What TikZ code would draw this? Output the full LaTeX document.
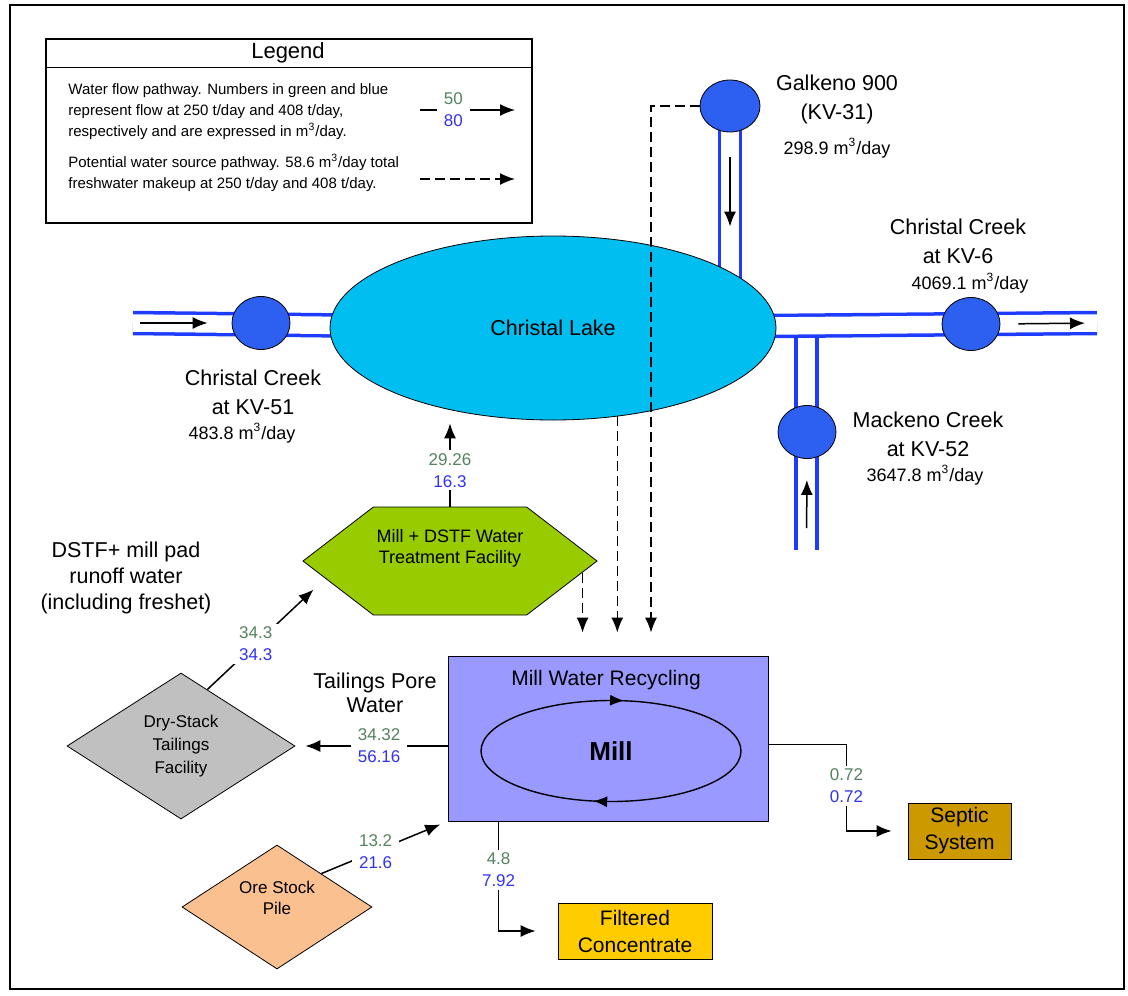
\documentclass[tikz,border=0pt]{standalone}
\usepackage{fontspec}
\setmainfont{Liberation Sans}
\usetikzlibrary{shapes.geometric,shapes.symbols,arrows.meta,backgrounds,decorations.markings}

\definecolor{lakecyan}{RGB}{0,190,240}
\definecolor{stationblue}{RGB}{45,95,240}
\definecolor{pipeblue}{RGB}{30,60,255}
\definecolor{millpurple}{RGB}{153,153,255}
\definecolor{hexgreen}{RGB}{153,204,0}
\definecolor{dstfgrey}{RGB}{192,192,192}
\definecolor{orepeach}{RGB}{250,192,144}
\definecolor{septicgold}{RGB}{204,153,0}
\definecolor{concgold}{RGB}{255,204,0}
\definecolor{numgreen}{RGB}{85,130,95}
\definecolor{numblue}{RGB}{50,50,240}

\newcommand{\flows}[2]{\textcolor{numgreen}{#1}\\\textcolor{numblue}{#2}}

\begin{document}
\begin{tikzpicture}[x=0.5pt, y=-0.5pt,
  lbl/.style={align=center, font=\fontsize{10.75}{14.5}\selectfont},
  rate/.style={font=\fontsize{9}{11}\selectfont},
  legtext/.style={align=left, anchor=west, inner sep=0pt, font=\fontsize{7.5}{10.5}\selectfont},
  nums/.style={fill=white, inner xsep=3.5pt, inner ysep=1.5pt, align=center, font=\fontsize{8.5}{11}\selectfont},
  station/.style={ellipse, draw, fill=stationblue, minimum width=29pt, minimum height=26.5pt, inner sep=0pt},
  pipe/.style={draw=pipeblue, line width=1.75pt, double=white, double distance=8.75pt},
  flow/.style={line width=0.75pt, -{Latex[length=7.5pt,width=6pt]}},
  dflow/.style={flow, dash pattern=on 5pt off 2.5pt},
  boxnode/.style={draw, inner sep=0pt, align=center, font=\fontsize{10.5}{13.5}\selectfont},
  recycling/.style={line width=0.7pt, postaction={decorate},
    decoration={markings,
      mark=at position 0.28 with {\arrow{Latex[length=7pt,width=5.5pt]}},
      mark=at position 0.772 with {\arrow{Latex[length=7pt,width=5.5pt]}}}}]
  \useasboundingbox (0,0) rectangle (1128,995);
  \draw[line width=0.8pt] (10,5) rectangle (1124,989);

  % legend
  \node[draw, line width=0.6pt, minimum width=243pt, minimum height=92pt, inner sep=0pt] (legend) at (289,131) {};
  \draw[line width=0.6pt] ([yshift=-14.5pt]legend.north west) -- ([yshift=-14.5pt]legend.north east);
  \node[font=\fontsize{11}{13}\selectfont] (legtitle) at (288,53) {Legend};
  \node[legtext] (legflow) at (68,112) {Water flow pathway. Numbers in green and blue\\represent flow at 250 t/day and 408 t/day,\\respectively and are expressed in m\textsuperscript{3}/day.};
  \node[legtext] (legsrc) at (68,173) {Potential water source pathway. 58.6 m\textsuperscript{3}/day total\\freshwater makeup at 250 t/day and 408 t/day.};
  \coordinate (lfa) at (420,110);
  \coordinate (lfb) at (515,110);
  \coordinate (lsa) at (420,179);
  \coordinate (lsb) at (515,179);
  \draw[flow] (lfa) -- node[nums, pos=0.35] {\flows{50}{80}} (lfb);
  \draw[dflow] (lsa) -- (lsb);

  % lake and creek stations
  \node[ellipse, draw, fill=lakecyan, minimum width=223pt, minimum height=92pt, inner sep=0pt, lbl] (lake) at (553,328) {Christal Lake};
  \node[station] (kv51) at (261,323) {};
  \node[station] (kv6) at (971,324) {};
  \node[station, minimum width=30pt, minimum height=26pt] (kv31) at (730,106) {};
  \node[station] (kv52) at (807,432) {};

  \coordinate (inlet) at (133,323);
  \coordinate (outlet) at (1097,323);
  \coordinate (mackeno) at (806.5,550);

  \begin{scope}[on background layer]
    \draw[pipe] (inlet) -- (lake.center);
    \draw[pipe] (kv31.center) -- (kv31 |- lake.center);
    \draw[pipe] (mackeno) -- (mackeno |- lake.center);
    \draw[pipe] (lake.center) -- (outlet);
  \end{scope}

  \draw[flow, shorten <=3.5pt, shorten >=12pt] (inlet) -- (kv51.west);
  \draw[flow, shorten <=9pt, shorten >=6pt] (kv6.east) -- (outlet);
  \draw[flow, shorten <=12.5pt, shorten >=4.5pt] (kv31.south) -- (kv31 |- lake.north);
  \draw[flow, shorten <=11pt, shorten >=10.5pt] (mackeno) -- (kv52.south);

  \node[lbl] (kv51name) at (253,392) {Christal Creek\\at KV-51};
  \node[rate] (kv51rate) at (242,433) {483.8 m\textsuperscript{3}/day};
  \node[lbl] (kv31name) at (837,99) {Galkeno 900\\(KV-31)};
  \node[rate] (kv31rate) at (837,148) {298.9 m\textsuperscript{3}/day};
  \node[lbl] (kv6name) at (958,241) {Christal Creek\\at KV-6};
  \node[rate] (kv6rate) at (970,283) {4069.1 m\textsuperscript{3}/day};
  \node[lbl] (kv52name) at (928,434) {Mackeno Creek\\at KV-52};
  \node[rate] (kv52rate) at (925,475) {3647.8 m\textsuperscript{3}/day};

  % facilities
  \node[signal, signal to=east and west, signal pointer angle=75, draw, fill=hexgreen,
        minimum width=147pt, minimum height=54pt, inner sep=0pt] (wtf) at (450,561) {};
  \node[align=center, font=\fontsize{9}{10.5}\selectfont] (wtflabel) at (450,548) {Mill + DSTF Water\\Treatment Facility};
  \node[diamond, draw, fill=dstfgrey, aspect=1.56, minimum width=114pt, minimum height=73pt, inner sep=0pt,
        align=center, font=\fontsize{8.5}{11.5}\selectfont] (dstf) at (181,746) {Dry-Stack\\Tailings\\Facility};
  \node[diamond, draw, fill=orepeach, aspect=1.53, minimum width=95pt, minimum height=62pt, inner sep=0pt] (ore) at (277,907) {};
  \node[align=center, font=\fontsize{8.5}{10.5}\selectfont] (orelabel) at (277,898) {Ore Stock\\Pile};

  \node[draw, fill=millpurple, minimum width=160pt, minimum height=82.5pt, inner sep=0pt] (millbox) at (608,738.5) {};
  \node[font=\fontsize{10.5}{12}\selectfont] (recycle) at (606,680) {Mill Water Recycling};
  \node[font=\fontsize{13}{15}\bfseries\selectfont] (mill) at (611,751) {Mill};
  \draw[recycling] (mill.center) ellipse [x radius=130, y radius=50.5];

  \node[boxnode, fill=septicgold, minimum width=51.5pt, minimum height=28pt] (septic) at (959.5,831) {Septic\\System};
  \node[boxnode, fill=concgold, minimum width=77pt, minimum height=28pt] (conc) at (635,931) {Filtered\\Concentrate};

  \node[align=center, font=\fontsize{10.75}{12}\selectfont] (porewater) at (375,693) {Tailings Pore\\Water};
  \node[align=center, font=\fontsize{10.75}{13}\selectfont] (runoff) at (126,578) {DSTF+ mill pad\\runoff water\\(including freshet)};

  % water flows
  \draw[flow, shorten >=1.5pt] (wtf.north) -- node[nums, pos=0.42] {\flows{29.26}{16.3}} (wtf.north |- lake.south);
  \draw[flow, shorten >=8pt] (dstf.65) -- node[nums, pos=0.41] {\flows{34.3}{34.3}} (wtf.188);
  \draw[flow, shorten >=5pt] (millbox.west |- dstf.east) -- node[nums, pos=0.45] {\flows{34.32}{56.16}} (dstf.east);
  \draw[flow, shorten >=4pt] (ore.37) -- node[nums, pos=0.43] {\flows{13.2}{21.6}} (millbox.south west);
  \draw[flow, shorten >=8pt] ([yshift=-3pt]millbox.east) -- ++(78,0) |- node[nums, pos=0.24] {\flows{0.72}{0.72}} (septic.west);
  \draw[flow, shorten >=11pt] ([xshift=25.5pt]millbox.south west) |- node[nums, pos=0.22] {\flows{4.8}{7.92}} (conc.west);

  % potential sources
  \coordinate (gbend) at (651,106);
  \draw[dflow, shorten >=11.5pt] (wtf.-5) -- (wtf.-5 |- millbox.north);
  \draw[dflow, shorten >=11.5pt] (lake.-54) -- (lake.-54 |- millbox.north);
  \draw[dflow, shorten >=11.5pt] (kv31.west) -- (gbend) -- (gbend |- millbox.north);
\end{tikzpicture}
\end{document}
